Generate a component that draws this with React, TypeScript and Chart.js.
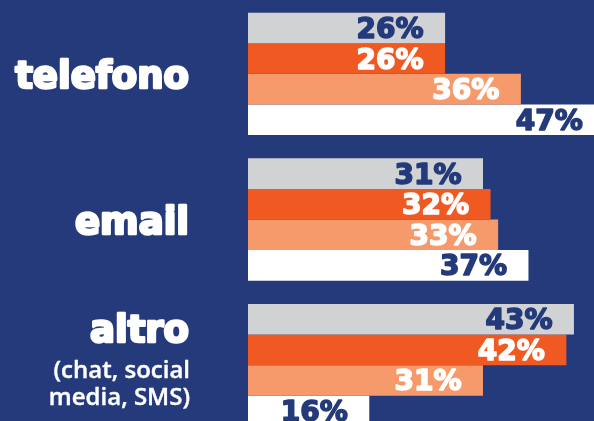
import React, { useEffect, useRef } from "react";
import { Chart, registerables } from "chart.js";

Chart.register(...registerables);

const categories = ["telefono", "email", "altro"];
const subtitles: string[][] = [[], [], ["(chat, social", "media, SMS)"]];
const seriesNames = ["Serie 1", "Serie 2", "Serie 3", "Serie 4"];
const series1 = [26, 31, 43];
const series2 = [26, 32, 42];
const series3 = [36, 33, 31];
const series4 = [47, 37, 16];

const BG = "#243a7b";
const barColors = ["#d1d2d4", "#f05a22", "#f79a6b", "#ffffff"];
const labelColors = [BG, "#ffffff", "#ffffff", BG];

const labelsPlugin = {
  id: "customLabels",
  afterDatasetsDraw(chart: any) {
    const ctx = chart.ctx;
    ctx.save();
    ctx.lineJoin = "round";
    // value labels
    ctx.font = "bold 28px 'DejaVu Sans'";
    ctx.textAlign = "right";
    ctx.textBaseline = "alphabetic";
    ctx.lineWidth = 1.6;
    chart.data.datasets.forEach((ds: any, di: number) => {
      const meta = chart.getDatasetMeta(di);
      meta.data.forEach((bar: any, i: number) => {
        const t = ds.data[i] + "%";
        ctx.fillStyle = labelColors[di];
        ctx.strokeStyle = labelColors[di];
        ctx.fillText(t, bar.x - 21.5, bar.y + 10);
        ctx.strokeText(t, bar.x - 21.5, bar.y + 10);
      });
    });
    // category labels
    const yScale = chart.scales.y;
    categories.forEach((cat, i) => {
      const cy = yScale.getPixelForValue(i);
      const subs = subtitles[i];
      ctx.fillStyle = "#ffffff";
      ctx.strokeStyle = "#ffffff";
      ctx.textAlign = "right";
      ctx.font = "bold 37px 'DejaVu Sans'";
      ctx.lineWidth = 2.6;
      const by = subs.length === 0 ? cy + 14 : cy - 23;
      ctx.fillText(cat, 189, by);
      ctx.strokeText(cat, 189, by);
      if (subs.length) {
        ctx.font = "600 24px 'Open Sans'";
        ctx.lineWidth = 0.4;
        subs.forEach((s, k) => {
          ctx.fillText(s, 190, cy + 13 + k * 27);
          ctx.strokeText(s, 190, cy + 13 + k * 27);
        });
      }
    });
    ctx.restore();
  },
};

export default function App() {
  const ref = useRef<HTMLCanvasElement>(null);
  useEffect(() => {
    document.body.style.margin = "0";
    document.documentElement.style.overflow = "hidden";
    const canvas = ref.current!;
    const chart = new Chart(canvas, {
      type: "bar",
      data: {
        labels: categories,
        datasets: [series1, series2, series3, series4].map((d, i) => ({
          label: seriesNames[i],
          data: d,
          backgroundColor: barColors[i],
          borderWidth: 0,
          categoryPercentage: 0.84,
          barPercentage: 1,
        })),
      },
      options: {
        indexAxis: "y",
        responsive: false,
        animation: false,
        layout: { padding: { left: 248, right: 3, top: 1, bottom: 2 } },
        plugins: {
          legend: { display: false },
          tooltip: { enabled: false },
        },
        scales: {
          x: { type: "linear", min: 0, max: 50, display: false, grid: { display: false } },
          y: { type: "category", display: false, grid: { display: false } },
        },
      },
      plugins: [labelsPlugin],
    });
    return () => chart.destroy();
  }, []);
  return (
    <div style={{ width: 594, height: 421, overflow: "hidden", background: BG, position: "relative" }}>
      <canvas ref={ref} width={630} height={440} style={{ display: "block", width: 630, height: 440 }} />
    </div>
  );
}
